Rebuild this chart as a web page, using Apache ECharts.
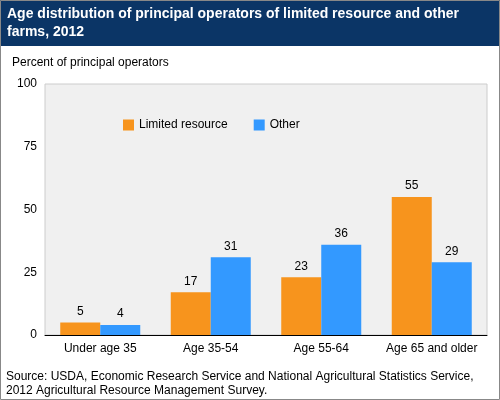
<!DOCTYPE html>
<html><head><meta charset="utf-8">
<script src="https://cdn.jsdelivr.net/npm/echarts@6/dist/echarts.min.js"></script>
<style>html,body{margin:0;padding:0;}#c{width:500px;height:400px;}</style>
</head><body><div id="c"></div>
<script>
const categories = ['Under age 35','Age 35-54','Age 55-64','Age 65 and older'];
const limited = [5,17,23,55];
const other = [4,31,36,29];
const yTicks = [0,25,50,75,100];
const chart = echarts.init(document.getElementById('c'));
const lbl = {show:true,position:'top',color:'#000',fontSize:12,fontFamily:'Arial, Liberation Sans'};
chart.setOption({
  backgroundColor:'#fff',
  graphic:[
    {type:'rect',shape:{x:0,y:0,width:500,height:46},style:{fill:'#0b3566'}},
    {type:'rect',shape:{x:0.5,y:0.5,width:499,height:399},style:{fill:'none',stroke:'#888'}},
    {type:'text',left:7,top:5,style:{text:'Age distribution of principal operators of limited resource and other\nfarms, 2012',fill:'#fff',font:'bold 14px Arial, Liberation Sans',lineHeight:18}},
    {type:'text',left:12,top:57,style:{text:'Percent of principal operators',fill:'#000',font:'12px Arial, Liberation Sans'}},
    {type:'text',left:6,top:370,style:{text:'Source: USDA, Economic Research Service and National Agricultural Statistics Service,\n2012 Agricultural Resource Management Survey.',fill:'#000',font:'12px Arial, Liberation Sans',lineHeight:14}}
  ],
  legend:{left:118,top:114,itemWidth:11,itemHeight:11,itemGap:26,icon:'rect',textStyle:{fontSize:12,fontFamily:'Arial, Liberation Sans',color:'#000'},data:['Limited resource','Other']},
  grid:{left:45,right:13,top:84,bottom:65,backgroundColor:'#f0f0f0',show:true,borderColor:'#ccc',borderWidth:1},
  xAxis:{type:'category',data:categories,axisTick:{show:false},axisLine:{lineStyle:{color:'#000'}},axisLabel:{interval:0,color:'#000',fontSize:12,fontFamily:'Arial, Liberation Sans',margin:8},splitLine:{show:false}},
  yAxis:{type:'value',min:0,max:100,interval:25,axisLabel:{color:'#000',fontSize:12,fontFamily:'Arial, Liberation Sans',formatter:v=>yTicks.includes(v)?String(v):''},axisLine:{show:false},axisTick:{show:false},splitLine:{show:false}},
  series:[
    {name:'Limited resource',type:'bar',data:limited,barWidth:40,barGap:'0%',itemStyle:{color:'#f7941d'},label:lbl},
    {name:'Other',type:'bar',data:other,barWidth:40,itemStyle:{color:'#3399ff'},label:lbl}
  ]
});
</script></body></html>
